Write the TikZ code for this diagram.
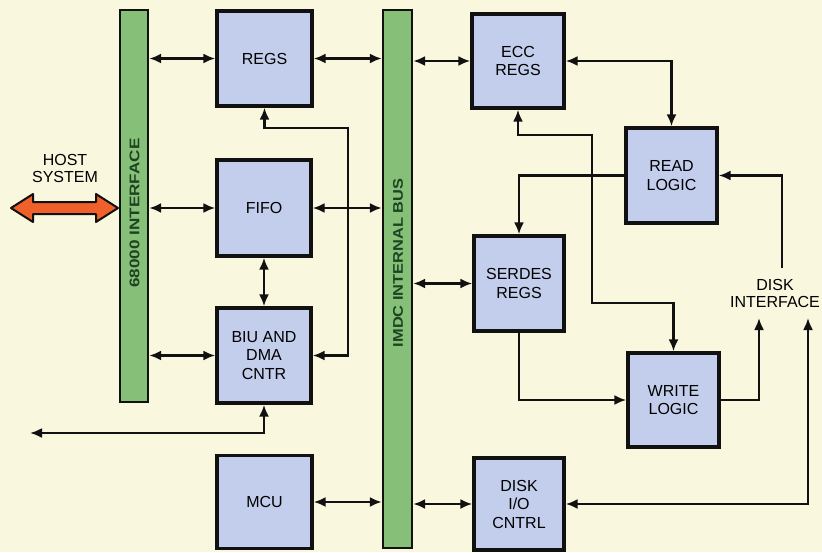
\documentclass[tikz,border=0pt]{standalone}
\usepackage{fontspec}
\setmainfont{Liberation Sans}
\usetikzlibrary{arrows.meta}
\definecolor{bgcream}{HTML}{FAF7DF}
\definecolor{boxblue}{HTML}{C3CEEC}
\definecolor{bargreen}{HTML}{86BF78}
\definecolor{bartext}{HTML}{1C4420}
\definecolor{hostorange}{HTML}{F0602B}
\definecolor{edge}{HTML}{111111}
\tikzset{
  blk/.style={draw=edge, line width=3.4pt, fill=boxblue, align=center,
    font=\fontsize{16}{18.5}\selectfont, inner sep=0pt},
  busbar/.style={draw=edge, line width=2.4pt, fill=bargreen, inner sep=0pt},
  bustext/.style={rotate=90, text=bartext, font=\bfseries\fontsize{14}{14}\selectfont, inner sep=0pt},
  conn/.style={line width=2.2pt, draw=edge, >={Latex[length=12pt,width=10pt]}},
  lbl/.style={align=center, font=\fontsize{16}{17}\selectfont, inner sep=0pt}
}
\begin{document}
\begin{tikzpicture}[x=1pt,y=-1pt]
\fill[bgcream] (0,0) rectangle (822,552);
\useasboundingbox (0,0) rectangle (822,552);

% bars
\node[busbar, minimum width=28pt, minimum height=392pt] (bar68) at (134,206) {};
\node[bustext] (bar68t) at (134.5,213) {\scalebox{1.22}[1]{68000 INTERFACE}};
\node[busbar, minimum width=29pt, minimum height=538pt] (bus) at (397.5,279) {};
\node[bustext] (bust) at (398,263) {\scalebox{1.17}[1]{IMDC INTERNAL BUS}};

% boxes
\node[blk, minimum width=95pt, minimum height=95pt] (regs) at (264.5,58.5) {REGS};
\node[blk, minimum width=94pt, minimum height=96pt] (fifo) at (264,208) {FIFO};
\node[blk, minimum width=94pt, minimum height=95pt] (biu) at (264,355.5) {BIU AND\\DMA\\CNTR};
\node[blk, minimum width=95pt, minimum height=93pt] (mcu) at (264.5,502) {MCU};
\node[blk, minimum width=92pt, minimum height=94pt] (ecc) at (518,61) {ECC\\REGS};
\node[blk, minimum width=91pt, minimum height=95pt] (read) at (671.5,175.5) {READ\\LOGIC};
\node[blk, minimum width=90pt, minimum height=95pt] (serdes) at (519,283.5) {SERDES\\REGS};
\node[blk, minimum width=91pt, minimum height=94pt] (write) at (673.5,400) {WRITE\\LOGIC};
\node[blk, minimum width=90pt, minimum height=92pt] (diskio) at (519,504) {DISK\\I/O\\CNTRL};

% labels
\node[lbl] (host) at (65,168) {HOST\\SYSTEM};
\node[lbl] (diskif) at (775,293) {DISK\\INTERFACE};

% host arrow
\filldraw[fill=hostorange, draw=edge, line width=2pt, line join=round]
  (11,208) -- (33,194) -- (33,202) -- (96,202) -- (96,194) -- (118,208)
  -- (96,222) -- (96,214) -- (33,214) -- (33,222) -- cycle;

% coordinates
\coordinate (c1) at (348,128);
\coordinate (leftend) at (30,433);
\coordinate (e1) at (592,135);
\coordinate (e2) at (592,303);
\coordinate (r1) at (782,268);
\coordinate (w1) at (759,318);
\coordinate (d1) at (808,318);

% 68000 interface connections
\draw[conn,<->] (bar68.east |- regs.west) -- (regs.west);
\draw[conn,<->] (bar68.east |- fifo.west) -- (fifo.west);
\draw[conn,<->] (bar68.east |- biu.west) -- (biu.west);

% internal bus connections (left side)
\draw[conn,<->] (regs.east) -- (bus.west |- regs.east);
\draw[conn,<->] (fifo.east) -- (bus.west |- fifo.east);
\draw[conn,<->] (mcu.east) -- (bus.west |- mcu.east);

% internal bus connections (right side)
\draw[conn,<->] (bus.east |- ecc.west) -- (ecc.west);
\draw[conn,<->] (bus.east |- serdes.west) -- (serdes.west);
\draw[conn,<->] (bus.east |- diskio.west) -- (diskio.west);

% other connections
\draw[conn,<->] (regs.south) |- (c1) |- (biu.east);
\draw[conn,<->] (fifo.south) -- (biu.north);
\draw[conn,<->] (biu.south) |- (leftend);
\draw[conn,<->] (ecc.east) -| (read.north);
\draw[conn,->] (read.west) -| (serdes.north);
\draw[conn,<->] (ecc.south) |- (e1) -- (e2) -| (write.north);
\draw[conn,->] (r1) |- (read.east);
\draw[conn,->] (write.east) -| (w1);
\draw[conn,->] (serdes.south) |- (write.west);
\draw[conn,<->] (diskio.east) -| (d1);
\end{tikzpicture}
\end{document}
